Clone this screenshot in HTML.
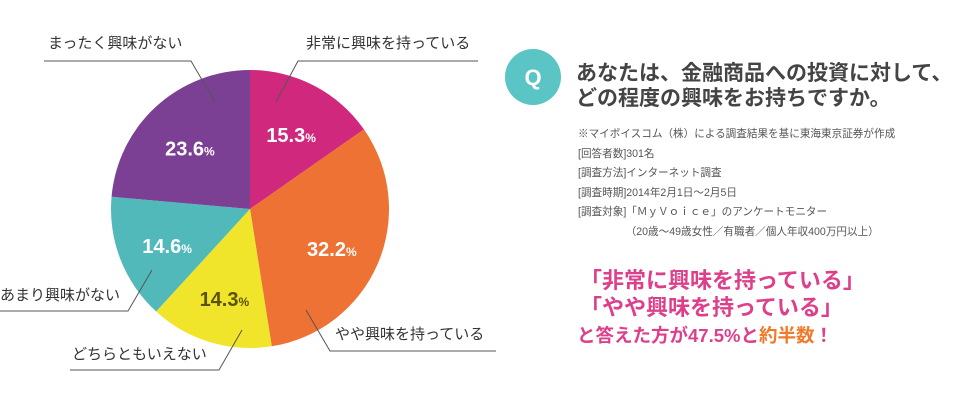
<!DOCTYPE html>
<html><head><meta charset="utf-8"><style>
body{margin:0;width:960px;height:403px;background:#fff;overflow:hidden;font-family:"Liberation Sans","Noto Sans CJK JP",sans-serif;position:relative}
.t{position:absolute;white-space:nowrap}
</style></head><body>
<svg width="960" height="403" style="position:absolute;left:0;top:0">
<g id="slices"></g>
<g id="lines" stroke="#555" stroke-width="1" fill="none">
<polyline points="44,61 191,61 215,102"/>
<polyline points="478,61 298,61 276,102"/>
<polyline points="0,311 128,311 152,270"/>
<polyline points="70,370 219,370 242,330"/>
<polyline points="306,310 330,351 496,351"/>
</g>
<g id="pct" font-family="Liberation Sans, sans-serif" font-weight="bold"></g>
<circle cx="533" cy="77" r="28" fill="#5bc4c4"/>
<text x="533" y="85" text-anchor="middle" fill="#fff" font-size="22" font-weight="bold" font-family="Liberation Sans, sans-serif">Q</text>
</svg>
<div class="t" style="left:48px;top:32px;font-size:15px;color:#333">まったく興味がない</div>
<div class="t" style="left:306px;top:32px;font-size:15px;color:#333">非常に興味を持っている</div>
<div class="t" style="left:0px;top:284px;font-size:15px;color:#333">あまり興味がない</div>
<div class="t" style="left:72px;top:343px;font-size:15px;color:#333">どちらともいえない</div>
<div class="t" style="left:335px;top:323px;font-size:15px;color:#333">やや興味を持っている</div>
<div class="t" style="left:576px;top:61px;font-size:21px;font-weight:bold;color:#444;line-height:25px">あなたは、金融商品への投資に対して、<br>どの程度の興味をお持ちですか。</div>
<div class="t" style="left:578px;top:125px;font-size:10.6px;color:#555;line-height:19.5px">※マイボイスコム（株）による調査結果を基に東海東京証券が作成<br>[回答者数]301名<br>[調査方法]インターネット調査<br>[調査時期]2014年2月1日～2月5日<br><span style="line-height:14px">[調査対象]「ＭｙＶｏｉｃｅ」のアンケートモニター<br>　　　　　（20歳～49歳女性／有職者／個人年収400万円以上）</span></div>
<div class="t" style="left:580px;top:267px;font-size:22px;font-weight:bold;color:#dd3f8b;line-height:27px">「非常に興味を持っている」<br>「やや興味を持っている」<br><span style="font-size:18.5px;margin-left:-3px">と答えた方が47.5%と<span style="color:#f07a2a">約半数</span>！</span></div>
<script>
const categories=["非常に興味を持っている","やや興味を持っている","どちらともいえない","あまり興味がない","まったく興味がない"];
const values=[15.3,32.2,14.3,14.6,23.6];
const colors=["#d0287c","#ee7234","#f0e52a","#52b9bb","#7b3f94"];
const labelColors=["#fff","#fff","#5a5200","#fff","#fff"];
const cx=250,cy=209,r=139;
const total=values.reduce((a,b)=>a+b,0);
const ns="http://www.w3.org/2000/svg";
const g=document.getElementById("slices"),pg=document.getElementById("pct");
let a0=0;
values.forEach((v,i)=>{
  const a1=a0+v/total*2*Math.PI;
  const p=(a)=>[cx+r*Math.sin(a),cy-r*Math.cos(a)];
  const [x0,y0]=p(a0),[x1,y1]=p(a1);
  const path=document.createElementNS(ns,"path");
  path.setAttribute("d",`M${cx},${cy}L${x0},${y0}A${r},${r} 0 ${a1-a0>Math.PI?1:0} 1 ${x1},${y1}Z`);
  path.setAttribute("fill",colors[i]);
  
  
  g.appendChild(path);
  const am=(a0+a1)/2,lr=r*0.64;
  const t=document.createElementNS(ns,"text");
  t.setAttribute("x",cx+lr*Math.sin(am));
  t.setAttribute("y",cy-lr*Math.cos(am)+12);
  t.setAttribute("text-anchor","middle");
  t.setAttribute("fill",labelColors[i]);
  t.setAttribute("font-size","20");
  
  
  t.innerHTML=v.toFixed(1)+'<tspan font-size="12">%</tspan>';
  pg.appendChild(t);
  a0=a1;
});
</script>
</body></html>
